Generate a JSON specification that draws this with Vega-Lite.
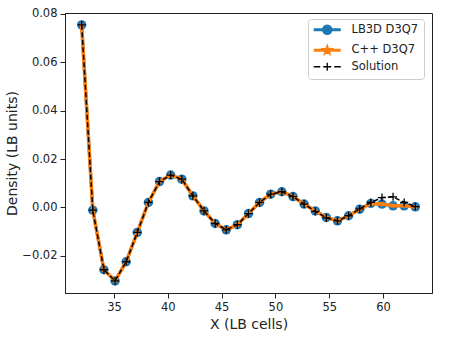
{
  "$schema": "https://vega.github.io/schema/vega-lite/v6.json",
  "width": 367,
  "height": 280,
  "autosize": {"type": "none"},
  "padding": {"left": 65, "top": 13, "right": 32, "bottom": 52},
  "config": {
    "font": "DejaVu Sans",
    "view": {"stroke": "#222", "strokeWidth": 1},
    "axis": {"grid": false, "domainColor": "#222", "tickColor": "#222", "labelColor": "#222", "titleColor": "#222", "labelFontSize": 11.5, "titleFontSize": 14, "titleFontWeight": "normal", "tickSize": 5, "labelPadding": 3}
  },
  "data": {
    "values": [
      {"x": 32.0, "s": "LB3D D3Q7", "y": 0.0754},
      {"x": 33.033, "s": "LB3D D3Q7", "y": -0.0011},
      {"x": 34.067, "s": "LB3D D3Q7", "y": -0.0257},
      {"x": 35.1, "s": "LB3D D3Q7", "y": -0.0303},
      {"x": 36.133, "s": "LB3D D3Q7", "y": -0.0224},
      {"x": 37.167, "s": "LB3D D3Q7", "y": -0.0103},
      {"x": 38.2, "s": "LB3D D3Q7", "y": 0.0021},
      {"x": 39.233, "s": "LB3D D3Q7", "y": 0.0107},
      {"x": 40.267, "s": "LB3D D3Q7", "y": 0.0134},
      {"x": 41.3, "s": "LB3D D3Q7", "y": 0.0117},
      {"x": 42.333, "s": "LB3D D3Q7", "y": 0.0048},
      {"x": 43.367, "s": "LB3D D3Q7", "y": -0.0014},
      {"x": 44.4, "s": "LB3D D3Q7", "y": -0.0066},
      {"x": 45.433, "s": "LB3D D3Q7", "y": -0.0092},
      {"x": 46.467, "s": "LB3D D3Q7", "y": -0.0071},
      {"x": 47.5, "s": "LB3D D3Q7", "y": -0.0025},
      {"x": 48.533, "s": "LB3D D3Q7", "y": 0.0021},
      {"x": 49.567, "s": "LB3D D3Q7", "y": 0.0055},
      {"x": 50.6, "s": "LB3D D3Q7", "y": 0.0065},
      {"x": 51.633, "s": "LB3D D3Q7", "y": 0.0045},
      {"x": 52.667, "s": "LB3D D3Q7", "y": 0.0014},
      {"x": 53.7, "s": "LB3D D3Q7", "y": -0.0014},
      {"x": 54.733, "s": "LB3D D3Q7", "y": -0.0041},
      {"x": 55.767, "s": "LB3D D3Q7", "y": -0.0055},
      {"x": 56.8, "s": "LB3D D3Q7", "y": -0.0034},
      {"x": 57.833, "s": "LB3D D3Q7", "y": -0.0007},
      {"x": 58.867, "s": "LB3D D3Q7", "y": 0.0017},
      {"x": 59.9, "s": "LB3D D3Q7", "y": 0.0014},
      {"x": 60.933, "s": "LB3D D3Q7", "y": 0.0007},
      {"x": 61.967, "s": "LB3D D3Q7", "y": 0.0007},
      {"x": 63.0, "s": "LB3D D3Q7", "y": 0.0003},
      {"x": 32.0, "s": "C++ D3Q7", "y": 0.0754},
      {"x": 33.033, "s": "C++ D3Q7", "y": -0.0011},
      {"x": 34.067, "s": "C++ D3Q7", "y": -0.0257},
      {"x": 35.1, "s": "C++ D3Q7", "y": -0.0303},
      {"x": 36.133, "s": "C++ D3Q7", "y": -0.0224},
      {"x": 37.167, "s": "C++ D3Q7", "y": -0.0103},
      {"x": 38.2, "s": "C++ D3Q7", "y": 0.0021},
      {"x": 39.233, "s": "C++ D3Q7", "y": 0.0107},
      {"x": 40.267, "s": "C++ D3Q7", "y": 0.0134},
      {"x": 41.3, "s": "C++ D3Q7", "y": 0.0117},
      {"x": 42.333, "s": "C++ D3Q7", "y": 0.0048},
      {"x": 43.367, "s": "C++ D3Q7", "y": -0.0014},
      {"x": 44.4, "s": "C++ D3Q7", "y": -0.0066},
      {"x": 45.433, "s": "C++ D3Q7", "y": -0.0092},
      {"x": 46.467, "s": "C++ D3Q7", "y": -0.0071},
      {"x": 47.5, "s": "C++ D3Q7", "y": -0.0025},
      {"x": 48.533, "s": "C++ D3Q7", "y": 0.0021},
      {"x": 49.567, "s": "C++ D3Q7", "y": 0.0055},
      {"x": 50.6, "s": "C++ D3Q7", "y": 0.0065},
      {"x": 51.633, "s": "C++ D3Q7", "y": 0.0045},
      {"x": 52.667, "s": "C++ D3Q7", "y": 0.0014},
      {"x": 53.7, "s": "C++ D3Q7", "y": -0.0014},
      {"x": 54.733, "s": "C++ D3Q7", "y": -0.0041},
      {"x": 55.767, "s": "C++ D3Q7", "y": -0.0055},
      {"x": 56.8, "s": "C++ D3Q7", "y": -0.0034},
      {"x": 57.833, "s": "C++ D3Q7", "y": -0.0007},
      {"x": 58.867, "s": "C++ D3Q7", "y": 0.0017},
      {"x": 59.9, "s": "C++ D3Q7", "y": 0.0014},
      {"x": 60.933, "s": "C++ D3Q7", "y": 0.0007},
      {"x": 61.967, "s": "C++ D3Q7", "y": 0.0007},
      {"x": 63.0, "s": "C++ D3Q7", "y": 0.0003},
      {"x": 32.0, "s": "Solution", "y": 0.0754},
      {"x": 33.033, "s": "Solution", "y": -0.0011},
      {"x": 34.067, "s": "Solution", "y": -0.0257},
      {"x": 35.1, "s": "Solution", "y": -0.0303},
      {"x": 36.133, "s": "Solution", "y": -0.0224},
      {"x": 37.167, "s": "Solution", "y": -0.0103},
      {"x": 38.2, "s": "Solution", "y": 0.0021},
      {"x": 39.233, "s": "Solution", "y": 0.0107},
      {"x": 40.267, "s": "Solution", "y": 0.0134},
      {"x": 41.3, "s": "Solution", "y": 0.0117},
      {"x": 42.333, "s": "Solution", "y": 0.0048},
      {"x": 43.367, "s": "Solution", "y": -0.0014},
      {"x": 44.4, "s": "Solution", "y": -0.0066},
      {"x": 45.433, "s": "Solution", "y": -0.0092},
      {"x": 46.467, "s": "Solution", "y": -0.0071},
      {"x": 47.5, "s": "Solution", "y": -0.0025},
      {"x": 48.533, "s": "Solution", "y": 0.0021},
      {"x": 49.567, "s": "Solution", "y": 0.0055},
      {"x": 50.6, "s": "Solution", "y": 0.0065},
      {"x": 51.633, "s": "Solution", "y": 0.0045},
      {"x": 52.667, "s": "Solution", "y": 0.0014},
      {"x": 53.7, "s": "Solution", "y": -0.0016},
      {"x": 54.733, "s": "Solution", "y": -0.0043},
      {"x": 55.767, "s": "Solution", "y": -0.0055},
      {"x": 56.8, "s": "Solution", "y": -0.0034},
      {"x": 57.833, "s": "Solution", "y": -0.0006},
      {"x": 58.867, "s": "Solution", "y": 0.0021},
      {"x": 59.9, "s": "Solution", "y": 0.0041},
      {"x": 60.933, "s": "Solution", "y": 0.0044},
      {"x": 61.967, "s": "Solution", "y": 0.0021},
      {"x": 63.0, "s": "Solution", "y": 0.0004}
    ]
  },
  "encoding": {
    "x": {"field": "x", "type": "quantitative", "scale": {"domain": [30.45, 64.55], "nice": false, "zero": false}, "axis": {"values": [35, 40, 45, 50, 55, 60], "title": "X (LB cells)", "titlePadding": 5}},
    "y": {"field": "y", "type": "quantitative", "scale": {"domain": [-0.0353, 0.0803], "nice": false, "zero": false}, "axis": {"values": [-0.02, 0, 0.02, 0.04, 0.06, 0.08], "format": ".2f", "title": "Density (LB units)", "titlePadding": 2}}
  },
  "layer": [
    {
      "transform": [{"filter": "datum.s === 'LB3D D3Q7'"}],
      "mark": {"type": "line", "strokeWidth": 3},
      "encoding": {
        "color": {
          "field": "s", "type": "nominal",
          "scale": {"domain": ["LB3D D3Q7", "C++ D3Q7", "Solution"], "range": ["#1f77b4", "#ff7f0e", "#000000"]},
          "legend": {
            "title": null, "orient": "none", "legendX": 243, "legendY": 6, "padding": 5,
            "strokeColor": "#cccccc", "fillColor": "white", "cornerRadius": 3,
            "labelFontSize": 11.5, "labelColor": "#222", "symbolSize": 100, "symbolOffset": 8.5, "labelOffset": 18.5, "rowPadding": 1.5, "symbolStrokeWidth": 3,
            "encode": {"symbols": {"update": {
              "shape": {"signal": "datum.value === 'LB3D D3Q7' ? 'M-2.7,0H2.7M-0.75,0A0.75,0.75 0 1,0 0.75,0A0.75,0.75 0 1,0 -0.75,0Z' : datum.value === 'C++ D3Q7' ? 'M-2.7,0H2.7M0,-0.5L0.12,-0.16L0.48,-0.15L0.19,0.06L0.29,0.4L0,0.2L-0.29,0.4L-0.19,0.06L-0.48,-0.15L-0.12,-0.16Z' : 'M-2.7,0H-1.4M-0.8,0H0.8M0,-0.8V0.8M1.4,0H2.7'"},
              "fill": {"signal": "datum.value === 'LB3D D3Q7' ? '#1f77b4' : datum.value === 'C++ D3Q7' ? '#ff7f0e' : 'transparent'"},
              "stroke": {"signal": "datum.value === 'LB3D D3Q7' ? '#1f77b4' : datum.value === 'C++ D3Q7' ? '#ff7f0e' : '#000000'"},
              "strokeWidth": {"signal": "datum.value === 'Solution' ? 1.3 : 3"},
              "opacity": {"value": 1}
            }}}
          }
        }
      }
    },
    {
      "transform": [{"filter": "datum.s === 'LB3D D3Q7'"}],
      "mark": {"type": "point", "shape": "circle", "filled": true, "size": 90, "opacity": 1},
      "encoding": {"color": {"field": "s", "type": "nominal", "legend": null}}
    },
    {
      "transform": [{"filter": "datum.s === 'C++ D3Q7'"}],
      "mark": {"type": "line", "strokeWidth": 3.5},
      "encoding": {"color": {"field": "s", "type": "nominal", "legend": null}}
    },
    {
      "transform": [{"filter": "datum.s === 'C++ D3Q7'"}],
      "mark": {"type": "point", "shape": "M0,-1L0.235,-0.324L0.951,-0.309L0.38,0.124L0.588,0.809L0,0.4L-0.588,0.809L-0.38,0.124L-0.951,-0.309L-0.235,-0.324Z", "filled": true, "size": 40, "opacity": 1},
      "encoding": {"color": {"field": "s", "type": "nominal", "legend": null}}
    },
    {
      "transform": [{"filter": "datum.s === 'Solution'"}],
      "mark": {"type": "line", "strokeWidth": 1.5, "strokeDash": [5, 2.5]},
      "encoding": {"color": {"field": "s", "type": "nominal", "legend": null}}
    },
    {
      "transform": [{"filter": "datum.s === 'Solution'"}],
      "mark": {"type": "point", "shape": "M-1,0H1M0,-1V1", "filled": false, "size": 64, "strokeWidth": 1.3, "opacity": 1},
      "encoding": {"color": {"field": "s", "type": "nominal", "legend": null}}
    }
  ]
}
